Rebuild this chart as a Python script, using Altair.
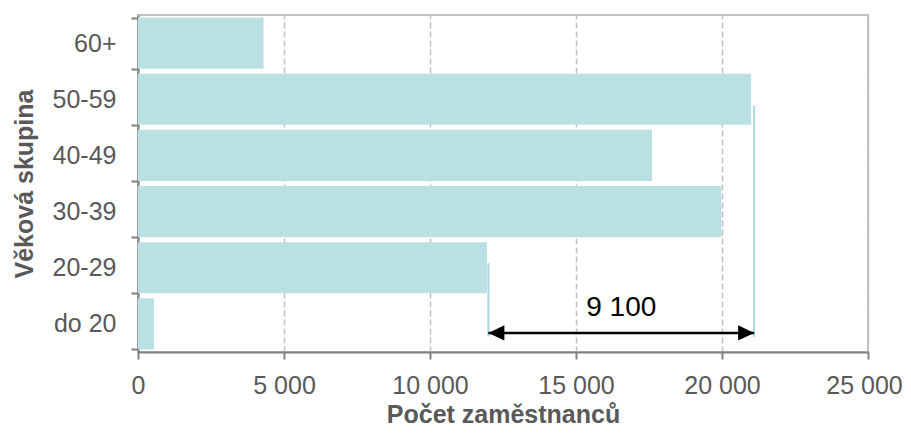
import altair as alt
import pandas as pd

# Data
groups = ["60+", "50-59", "40-49", "30-39", "20-29", "do 20"]
counts = [4300, 21000, 17600, 19980, 11950, 550]

# Annotation: difference between 20-29 and 50-59 groups
guide_x = [12000, 21100]
guide_y0 = [0.28, 0.27]      # in band units (0 = bottom, 6 = top)
guide_y1 = [1.58, 4.38]
arrow_start = 12000
arrow_end = 21100
arrow_y = [0.34]
diff_label = ["9 100"]
label_x = [16550]
label_y = [0.64]

x_ticks = [0, 5000, 10000, 15000, 20000, 25000]

FONT = "Liberation Sans"
GRAY = "#595959"

x_scale = alt.Scale(domain=[0, 25000], nice=False)
x_axis = alt.Axis(
    values=x_ticks,
    title="Počet zaměstnanců",
    labelExpr="replace(format(datum.value, ','), ',', ' ')",
    labelFlush=False,
    labelOffset={"condition": {"test": "datum.value >= 25000", "value": -4}, "value": 0},
    grid=True,
    gridDash=[6, 3],
    gridColor="#c0c0c0",
    gridWidth=1.5,
    tickSize=7,
    labelPadding=14,
    titleY=70,
    titleBaseline="alphabetic",
)

bars_df = pd.DataFrame({"group": groups, "count": counts})
bars = alt.Chart(bars_df).mark_bar(color="#bbe0e3").encode(
    x=alt.X("count:Q", scale=x_scale, axis=x_axis),
    y=alt.Y(
        "group:N",
        sort=groups,
        scale=alt.Scale(paddingInner=0.09, paddingOuter=0.045),
        axis=alt.Axis(
            title="Věková skupina",
            tickBand="extent",
            tickSize=7,
            labelPadding=15,
            titleX=-106,
            titleBaseline="alphabetic",
            grid=False,
        ),
    ),
)

y_ann = dict(scale=alt.Scale(domain=[0, 6], nice=False, zero=False), axis=None)

guides_df = pd.DataFrame({"x": guide_x, "y0": guide_y0, "y1": guide_y1})
guides = alt.Chart(guides_df).mark_rule(color="#a8d8dc", strokeWidth=2).encode(
    x=alt.X("x:Q", scale=x_scale, axis=x_axis),
    y=alt.Y("y0:Q", **y_ann),
    y2="y1:Q",
)

arrow_df = pd.DataFrame({"x0": [arrow_start], "x1": [arrow_end], "y": arrow_y})
arrow = alt.Chart(arrow_df).mark_rule(color="black", strokeWidth=2.5).encode(
    x=alt.X("x0:Q", scale=x_scale, axis=x_axis),
    x2="x1:Q",
    y=alt.Y("y:Q", **y_ann),
)

left_head = alt.Chart(arrow_df).mark_point(
    shape="M0,0L2,-0.95L2,0.95Z", filled=True, color="black", opacity=1, size=256
).encode(
    x=alt.X("x0:Q", scale=x_scale, axis=x_axis),
    y=alt.Y("y:Q", **y_ann),
)
right_head = alt.Chart(arrow_df).mark_point(
    shape="M0,0L-2,-0.95L-2,0.95Z", filled=True, color="black", opacity=1, size=256
).encode(
    x=alt.X("x1:Q", scale=x_scale, axis=x_axis),
    y=alt.Y("y:Q", **y_ann),
)

label_df = pd.DataFrame({"x": label_x, "y": label_y, "t": diff_label})
label = alt.Chart(label_df).mark_text(
    fontSize=28, font=FONT, color="black", align="center", baseline="alphabetic"
).encode(
    x=alt.X("x:Q", scale=x_scale, axis=x_axis),
    y=alt.Y("y:Q", **y_ann),
    text="t:N",
)

annotations = alt.layer(guides, arrow, left_head, right_head, label)

chart = (
    alt.layer(bars, annotations)
    .resolve_scale(y="independent")
    .properties(
        width=730,
        height=337,
        autosize=alt.AutoSizeParams(type="none"),
        padding={"left": 130, "top": 7, "right": 35, "bottom": 75},
    )
    .configure_view(stroke="#c0c0c0", strokeWidth=2)
    .configure_axis(
        labelFont=FONT,
        titleFont=FONT,
        labelFontSize=25,
        titleFontSize=25,
        labelColor=GRAY,
        titleColor=GRAY,
        titleFontWeight="bold",
        domainColor="#808080",
        domainWidth=2,
        tickColor="#808080",
        tickWidth=2,
    )
)

chart.save("out.html", embed_options={"renderer": "svg", "actions": False})
